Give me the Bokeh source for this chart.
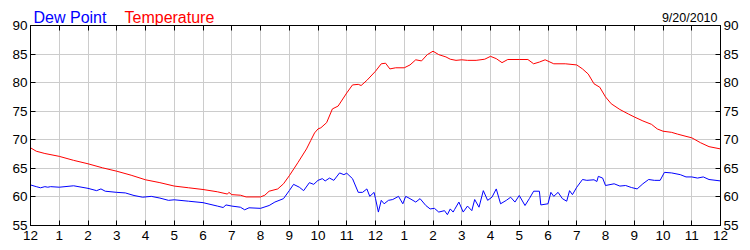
from bokeh.plotting import figure
from bokeh.models import LinearAxis, FixedTicker, Label, Range1d
from bokeh.layouts import column
from bokeh.embed import file_html
from bokeh.resources import INLINE

# ---- data (hours since midnight, °F) ----
temp_hours = [0, 0.2, 0.5, 1, 1.5, 2, 2.5, 3, 3.5, 4, 4.5, 5, 5.5, 6, 6.5, 6.85, 6.9, 7, 7.3, 7.5,
              8, 8.15, 8.3, 8.6, 8.8, 9, 9.3, 9.6, 9.75, 9.88, 10, 10.1, 10.3, 10.5, 10.7, 11, 11.2,
              11.4, 11.5, 11.7, 12, 12.2, 12.35, 12.5, 12.7, 13, 13.2, 13.4, 13.6, 13.8, 14, 14.2,
              14.45, 14.6, 14.8, 15, 15.2, 15.5, 15.8, 16, 16.2, 16.4, 16.6, 17, 17.3, 17.5, 17.7,
              17.9, 18.2, 18.6, 19, 19.2, 19.4, 19.6, 19.8, 20, 20.2, 20.5, 20.8, 21, 21.3, 21.6,
              21.8, 22, 22.3, 22.5, 22.8, 23, 23.3, 23.6, 24]
temperature = [68.6, 68.0, 67.6, 67.1, 66.4, 65.8, 65.1, 64.5, 63.8, 63.0, 62.5, 61.9, 61.6, 61.3,
               60.9, 60.5, 60.8, 60.4, 60.3, 60.0, 60.0, 60.3, 61.0, 61.4, 62.3, 63.7, 66.0, 68.4,
               69.9, 71.2, 71.9, 72.1, 73.0, 75.4, 75.9, 78.2, 79.6, 79.7, 79.5, 80.4, 82.0, 83.3,
               83.4, 82.4, 82.6, 82.6, 83.1, 84.0, 83.8, 84.9, 85.5, 84.9, 84.5, 84.1, 83.9, 84.0,
               83.9, 83.9, 84.1, 84.6, 84.2, 83.5, 84.05, 84.05, 84.05, 83.3, 83.6, 84.0, 83.3,
               83.3, 83.1, 82.4, 81.5, 79.8, 79.2, 77.5, 76.3, 75.3, 74.5, 74.0, 73.3, 72.7, 71.9,
               71.5, 71.3, 71.0, 70.6, 70.35, 69.5, 68.8, 68.4]

dew_hours = [0, 0.2, 0.35, 0.5, 0.6, 0.7, 1, 1.5, 2, 2.3, 2.45, 2.6, 3, 3.3, 3.6, 3.9, 4.2, 4.5,
             4.8, 5, 5.5, 6, 6.5, 6.7, 6.8, 7, 7.3, 7.45, 7.6, 8, 8.3, 8.5, 8.8, 9, 9.15, 9.35,
             9.5, 9.7, 9.85, 10, 10.15, 10.25, 10.4, 10.55, 10.75, 10.9, 11, 11.2, 11.4, 11.55,
             11.7, 11.8, 11.95, 12.0, 12.1, 12.2, 12.3, 12.45, 12.6, 12.8, 12.95, 13.05, 13.2,
             13.4, 13.55, 13.75, 13.9, 14.05, 14.2, 14.4, 14.5, 14.6, 14.7, 14.75, 14.9, 15.05,
             15.2, 15.35, 15.45, 15.6, 15.75, 15.9, 16.05, 16.2, 16.35, 16.55, 16.7, 16.85, 17.0,
             17.2, 17.35, 17.5, 17.7, 17.75, 18.0, 18.1, 18.2, 18.35, 18.5, 18.65, 18.75, 18.85,
             19.0, 19.2, 19.35, 19.6, 19.7, 19.75, 19.9, 20, 20.3, 20.5, 20.7, 20.9, 21.1, 21.3,
             21.5, 21.7, 21.9, 22.05, 22.3, 22.6, 22.8, 23, 23.2, 23.4, 23.6, 24]
dew_point = [62.1, 61.8, 61.6, 61.8, 61.7, 61.8, 61.7, 61.95, 61.5, 61.1, 61.4, 61.0, 60.8, 60.7,
             60.25, 59.95, 60.1, 59.8, 59.4, 59.5, 59.25, 59.0, 58.4, 58.15, 58.6, 58.4, 58.2,
             57.75, 58.1, 58.0, 58.5, 59.1, 59.7, 61.1, 62.2, 61.7, 61.1, 62.5, 62.2, 62.9, 63.2,
             62.8, 63.3, 62.9, 64.2, 63.9, 64.15, 63.2, 60.8, 60.8, 61.4, 60.1, 60.8, 59.7, 57.35,
             59.4, 58.8, 59.4, 59.55, 60.1, 58.8, 60.1, 59.7, 59.1, 59.7, 58.5, 57.9, 58.0, 57.35,
             57.6, 56.9, 57.9, 57.35, 57.8, 59.1, 57.35, 58.4, 57.6, 59.55, 58.2, 61.1, 59.4,
             59.95, 61.4, 58.8, 59.4, 59.95, 59.1, 60.25, 58.5, 59.7, 61.0, 61.0, 58.6, 58.8,
             60.8, 60.1, 60.8, 59.7, 59.25, 61.1, 60.4, 61.7, 63.05, 62.9, 63.0, 62.7, 63.6, 63.3,
             62.0, 62.3, 61.9, 62.0, 61.65, 61.4, 62.3, 63.05, 62.9, 62.9, 64.3, 64.2, 63.9, 63.5,
             63.5, 63.3, 63.5, 63.05, 62.8]

hour_ticks = list(range(0, 25))
hour_labels = ["12", "1", "2", "3", "4", "5", "6", "7", "8", "9", "10", "11",
               "12", "1", "2", "3", "4", "5", "6", "7", "8", "9", "10", "11", "12"]
y_ticks = [55, 60, 65, 70, 75, 80, 85, 90]
series_names = ["Dew Point", "Temperature"]
date_text = "9/20/2010"

FONT = "Liberation Sans"
TICK_SIZE = "13.5px"
HEADER_H = 25   # header strip height (px); the main chart overlaps it (transparent border)
BASE = 17       # baseline of header texts, px from the top of the page

# ---- header strip with the coloured series names and the date ----
header = figure(width=750, height=HEADER_H, output_backend="svg", toolbar_location=None,
                x_range=Range1d(30, 720), y_range=Range1d(0, HEADER_H),
                x_axis_location=None, y_axis_location=None, min_border=0,
                min_border_left=30, min_border_right=30)
header.grid.visible = False
header.outline_line_color = None
header.background_fill_color = "white"
header.border_fill_color = "white"
header.add_layout(Label(x=33, y=HEADER_H - BASE, text=series_names[0], text_color="#0000ff",
                        text_font=FONT, text_font_size="16px", text_baseline="alphabetic"))
header.add_layout(Label(x=124, y=HEADER_H - BASE, text=series_names[1], text_color="#ff0000",
                        text_font=FONT, text_font_size="16px", text_baseline="alphabetic"))
header.add_layout(Label(x=717, y=HEADER_H - BASE, text=date_text, text_color="black",
                        text_font=FONT, text_font_size="12.5px", text_align="right",
                        text_baseline="alphabetic"))

# ---- main chart ----
p = figure(width=750, height=250, output_backend="svg", toolbar_location=None,
           x_range=Range1d(0, 24), y_range=Range1d(55, 90),
           min_border_left=30, min_border_right=30, min_border_top=25,
           min_border_bottom=25, margin=(-HEADER_H, 0, 0, 0))
p.background_fill_color = "white"
p.border_fill_color = None
p.outline_line_color = "black"
p.outline_line_alpha = 1.0


def style_axis(ax):
    ax.axis_line_color = "black"
    ax.major_tick_line_color = "black"
    ax.major_tick_in = 5
    ax.major_tick_out = 0
    ax.minor_tick_line_color = None
    ax.major_label_text_font = FONT
    ax.major_label_text_font_size = TICK_SIZE
    ax.major_label_text_color = "black"
    ax.major_label_standoff = 3


xb = p.xaxis[0]
xb.ticker = FixedTicker(ticks=hour_ticks)
xb.major_label_overrides = {t: l for t, l in zip(hour_ticks, hour_labels)}
style_axis(xb)
xb.major_label_standoff = 5

yl = p.yaxis[0]
yl.ticker = FixedTicker(ticks=y_ticks)
style_axis(yl)

xt = LinearAxis(ticker=FixedTicker(ticks=hour_ticks),
                major_label_overrides={t: "" for t in hour_ticks})
style_axis(xt)
xt.major_label_text_font_size = "0px"
xt.major_label_standoff = 0
p.add_layout(xt, "above")

yr = LinearAxis(ticker=FixedTicker(ticks=y_ticks))
style_axis(yr)
p.add_layout(yr, "right")

p.xgrid.ticker = FixedTicker(ticks=hour_ticks)
p.ygrid.ticker = FixedTicker(ticks=y_ticks)
for g in (p.xgrid[0], p.ygrid[0]):
    g.grid_line_color = "#cccccc"
    g.grid_line_width = 1
    g.grid_line_alpha = 1.0

p.line(temp_hours, temperature, line_color="#ff0000", line_width=1)
p.line(dew_hours, dew_point, line_color="#0000ff", line_width=1)

layout = column(header, p, spacing=0)
open("out.html", "w").write(file_html(layout, INLINE))
